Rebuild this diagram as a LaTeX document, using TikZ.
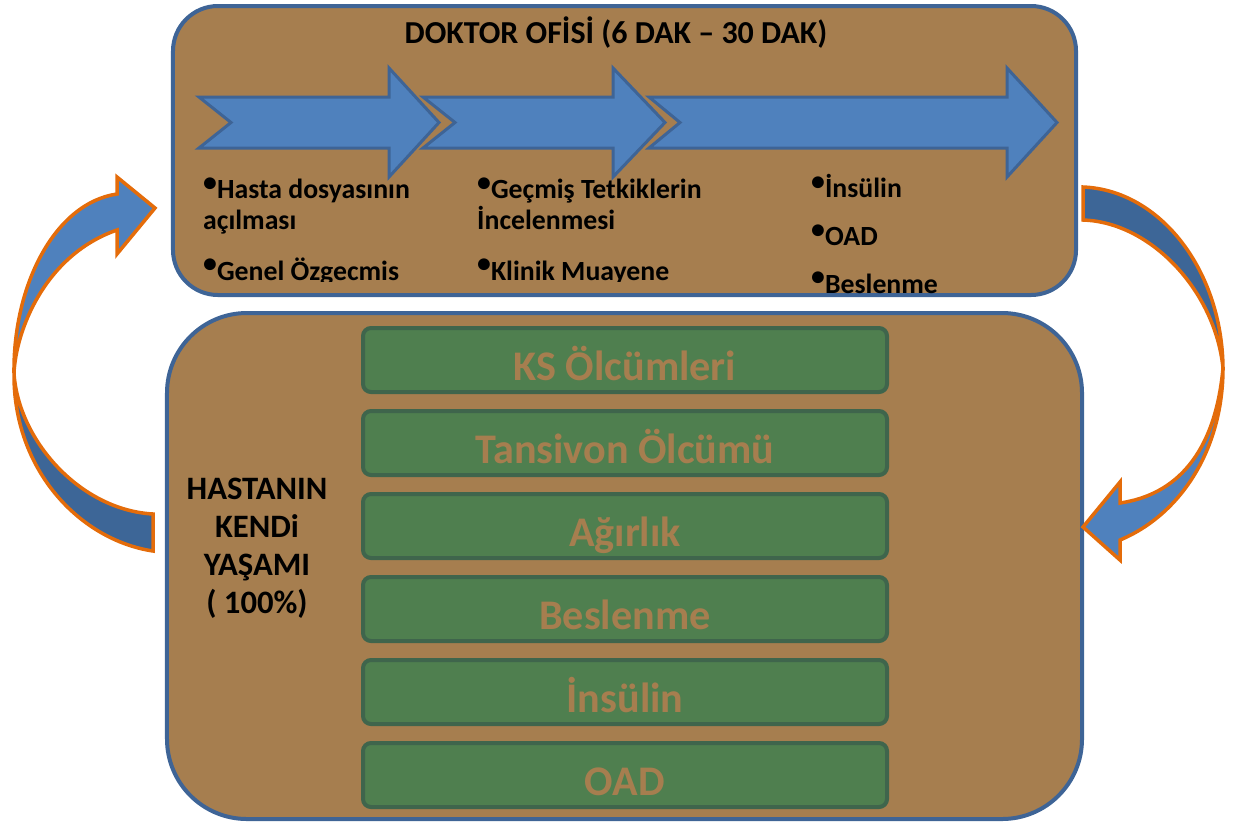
\documentclass[tikz,border=0pt]{standalone}
\usepackage{fontspec}
\setmainfont{Carlito}
\usetikzlibrary{positioning}
\definecolor{Brown}{HTML}{A67E4F}
\definecolor{Frame}{HTML}{3E6496}
\definecolor{Sky}{HTML}{4F81BD}
\definecolor{Navy}{HTML}{3D6697}
\definecolor{Orange}{HTML}{E46C0A}
\definecolor{Leaf}{HTML}{4F7F4F}
\definecolor{LeafDark}{HTML}{3F654C}
\newcommand{\bul}{\raisebox{4pt}{•}}

\begin{document}
\begin{tikzpicture}[x=0.2mm,y=-0.2mm,
      panel/.style={draw=Frame,fill=Brown,line width=0.8mm},
      chev/.style={draw=Frame,fill=Sky,line width=0.6mm,line join=miter},
      curvearrow/.style={draw=Orange,line width=0.7mm,line join=miter},
      stepbox/.style={draw=LeafDark,fill=Leaf,line width=0.8mm,rounded corners=1.6mm,
        minimum width=104.8mm,inner sep=0pt,outer sep=0pt,text height=10.4mm,text depth=2.4mm,
        font=\fontsize{24}{28}\selectfont\bfseries,text=Brown},
      bullets/.style={anchor=base west,align=left,font=\fontsize{15.8}{17.6}\selectfont\bfseries}]
      \useasboundingbox (0,0) rectangle (1233,823);
      \node[panel,rounded corners=9mm,minimum width=180.6mm,minimum height=57.8mm] (office) at (624.5,150.5) {};
      \node[panel,rounded corners=16mm,minimum width=183mm,minimum height=101.2mm] (life) at (624.5,566) {};
      \node[font=\fontsize{18.2}{21}\selectfont\bfseries,anchor=base] (title) at (616,43) {DOKTOR OFİSİ (6 DAK – 30 DAK)};
      \foreach \a/\b/\c/\d in {199/231/389/439,423/455/613/665,649/680/1007/1057}
        \draw[chev] (\a,97) -- (\c,97) -- (\c,68) -- (\d,122.5) -- (\c,177) -- (\c,148) -- (\a,148) -- (\b,122.5) -- cycle;
      \begin{scope}
        \clip (180,140) rectangle (790,281);
        \node[bullets] (first) at (197,280) {\bul Hasta dosyasının\\açılması\\[11.4pt]\bul Genel Özgecmis};
        \node[bullets] (second) at (471,280) {\bul Geçmiş Tetkiklerin\\İncelenmesi\\[11.4pt]\bul Klinik Muayene};
      \end{scope}
      \node[bullets] (third) at (805,293) {\bul İnsülin\\[9.7pt]\bul OAD\\[9.7pt]\bul Beslenme};
      \node[font=\fontsize{18.6}{21.6}\selectfont\bfseries,align=center,anchor=base] (kendi) at (257,613) {HASTANIN\\KENDi\\YAŞAMI\\( 100\%)};
      \node[stepbox] (ks) at (625,360) {KS Ölcümleri};
      \node[stepbox,below=3.8mm of ks] (tansiyon) {Tansivon Ölcümü};
      \node[stepbox,below=3.8mm of tansiyon] (agirlik) {Ağırlık};
      \node[stepbox,below=3.8mm of agirlik] (beslenme) {Beslenme};
      \node[stepbox,below=3.8mm of beslenme] (insulin) {İnsülin};
      \node[stepbox,below=3.8mm of insulin] (oad) {OAD};
      % curved arrows, back face first
      \draw[curvearrow,fill=Navy] (14,373) .. controls (13,470) and (80,540) .. (153,551) -- (153,514) .. controls (80,510) and (18,440) .. (14,373) -- cycle;
      \draw[curvearrow,fill=Sky] (14,373) .. controls (13,285) and (55,203) .. (117,194) -- (117,177) -- (155,208) -- (117,254) -- (117,230) .. controls (45,255) and (16,330) .. (14,373) -- cycle;
      \draw[curvearrow,fill=Navy] (1083,187) .. controls (1160,190) and (1222,270) .. (1223,368) .. controls (1215,290) and (1150,222) .. (1083,220) -- cycle;
      \draw[curvearrow,fill=Sky] (1223,368) .. controls (1223,450) and (1180,515) .. (1120,540) -- (1120,560) -- (1083,527) -- (1120,482) -- (1120,503) .. controls (1175,495) and (1215,455) .. (1223,368) -- cycle;
    \end{tikzpicture}
\end{document}
